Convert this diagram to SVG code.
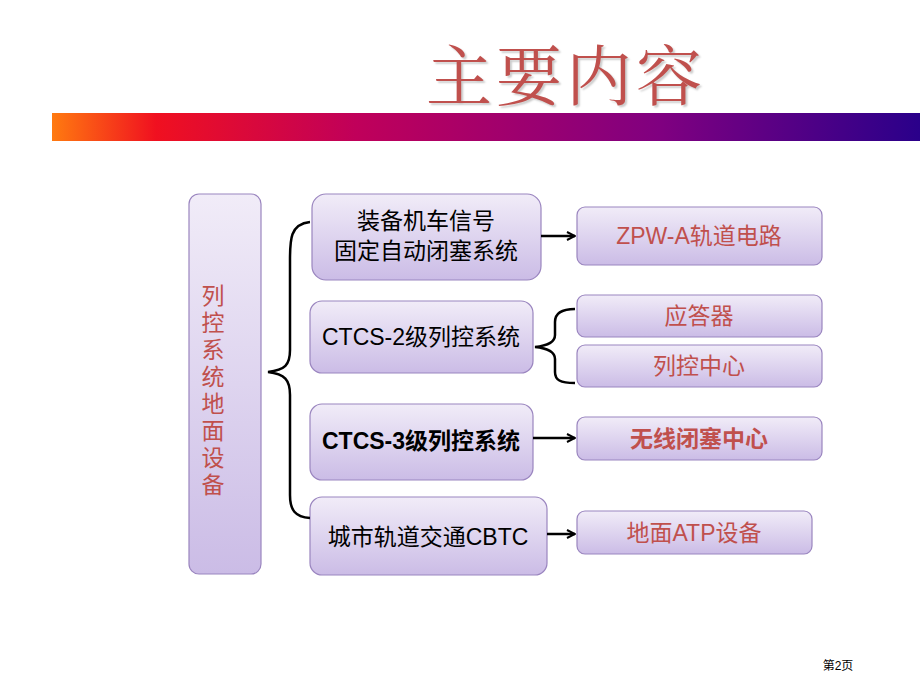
<svg xmlns="http://www.w3.org/2000/svg" width="920" height="690" viewBox="0 0 920 690">
<defs>
<linearGradient id="bar" x1="0" x2="1" y1="0" y2="0">
<stop offset="0" stop-color="#ff7a10"/><stop offset="0.12" stop-color="#f01020"/><stop offset="0.35" stop-color="#c0005a"/><stop offset="0.7" stop-color="#800080"/><stop offset="1" stop-color="#2a008a"/>
</linearGradient>
<linearGradient id="box" x1="0" x2="0" y1="0" y2="1">
<stop offset="0" stop-color="#f1ecf8"/><stop offset="1" stop-color="#cbbce6"/>
</linearGradient>
<marker id="ar" markerWidth="10" markerHeight="10" refX="9" refY="5" orient="auto" markerUnits="userSpaceOnUse"><path d="M1,1 L9,5 L1,9" fill="none" stroke="#000" stroke-width="2"/></marker>
<style>
.b{fill:url(#box);stroke:#9a85bf;stroke-width:1.2}
.t{font-family:"Liberation Sans","Noto Sans CJK SC",sans-serif;font-size:23px;text-anchor:middle;fill:#000}
.r{font-family:"Liberation Sans","Noto Sans CJK SC",sans-serif;font-size:23px;text-anchor:middle;fill:#c0504d}
.c{fill:none;stroke:#000;stroke-width:2.5}
</style>
</defs>
<rect width="920" height="690" fill="#fff"/>
<text x="566" y="100" font-family="'Liberation Serif','Noto Serif CJK SC','Noto Sans CJK SC',serif" font-size="66" fill="#c0504d" text-anchor="middle" letter-spacing="4" style="text-shadow:2px 2px 2px #ccc">主要内容</text>
<rect x="52" y="113" width="868" height="28" fill="url(#bar)"/>
<g id="root"><rect class="b" x="189" y="194" width="72" height="380" rx="10"/>
<text class="r" font-size="22" x="213" y="304">列</text><text class="r" x="213" y="331">控</text><text class="r" x="213" y="358">系</text><text class="r" x="213" y="385">统</text><text class="r" x="213" y="412">地</text><text class="r" x="213" y="439">面</text><text class="r" x="213" y="466">设</text><text class="r" x="213" y="493">备</text></g>
<g id="n1"><rect class="b" x="312" y="194" width="229" height="86" rx="14"/><text class="t" x="426" y="229">装备机车信号</text><text class="t" x="426" y="259">固定自动闭塞系统</text></g>
<g id="n2"><rect class="b" x="310" y="301" width="223" height="72" rx="12"/><text class="t" x="421" y="345">CTCS-2级列控系统</text></g>
<g id="n3"><rect class="b" x="310" y="404" width="223" height="76" rx="12"/><text class="t" x="421" y="449" font-weight="bold">CTCS-3级列控系统</text></g>
<g id="n4"><rect class="b" x="310" y="497" width="237" height="78" rx="12"/><text class="t" x="428" y="545">城市轨道交通CBTC</text></g>
<g id="l1"><rect class="b" x="577" y="207" width="245" height="58" rx="8"/><text class="r" x="699" y="244">ZPW-A轨道电路</text></g>
<g id="l2"><rect class="b" x="577" y="295" width="245" height="42" rx="8"/><text class="r" x="699" y="324">应答器</text></g>
<g id="l3"><rect class="b" x="577" y="345" width="245" height="42" rx="8"/><text class="r" x="699" y="374">列控中心</text></g>
<g id="l4"><rect class="b" x="577" y="417" width="245" height="43" rx="8"/><text class="r" x="699" y="447" font-weight="bold">无线闭塞中心</text></g>
<g id="l5"><rect class="b" x="577" y="511" width="235" height="43" rx="8"/><text class="r" x="694" y="541">地面ATP设备</text></g>
<g id="connectors">
<path class="c" d="M310,222 C290,224 290,240 290,260 L290,350 C290,365 285,370 268,372 C285,374 290,380 290,395 L290,495 C290,510 295,517 310,518"/>
<path class="c" d="M541,236 L575,236" marker-end="url(#ar)"/>
<path class="c" d="M575,309 C560,309 555,314 555,322 L555,335 C555,343 545,346 535,347 C545,348 555,351 555,359 L555,372 C555,380 560,383 575,383"/>
<path class="c" d="M533,438 L575,438" marker-end="url(#ar)"/>
<path class="c" d="M547,534 L575,534" marker-end="url(#ar)"/>
</g>
<text x="838" y="670" font-family="'Liberation Sans','Noto Sans CJK SC',sans-serif" font-size="12" text-anchor="middle">第2页</text>
</svg>
